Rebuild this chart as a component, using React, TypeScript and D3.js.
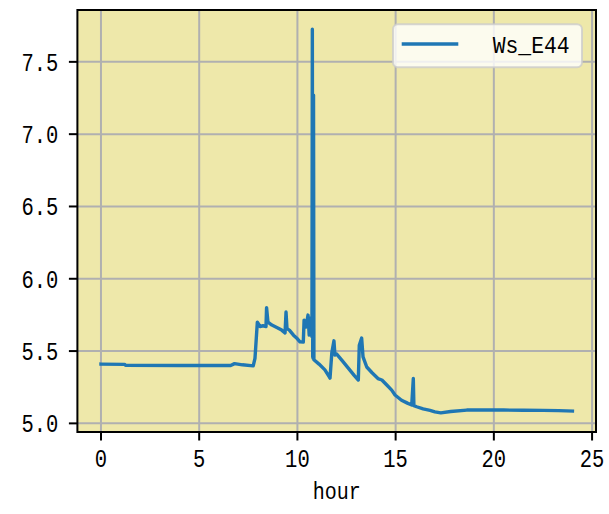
import React from "react";
import * as d3 from "d3";

const hours: number[] = [
  0, 1.2, 1.25, 4.0, 6.6, 6.8, 7.2, 7.75, 7.84, 7.96, 8.1, 8.25, 8.4, 8.43, 8.5, 8.7, 9.0, 9.2, 9.37, 9.42, 9.47, 9.59,
  9.8, 10.0, 10.13, 10.3, 10.34, 10.44, 10.54, 10.6, 10.69, 10.74, 10.76, 10.78, 10.8, 10.82, 10.84, 11.1, 11.4, 11.63,
  11.66, 11.75, 11.86, 11.91, 12.0, 12.3, 12.6, 12.9, 13.1, 13.15, 13.27, 13.34, 13.53, 13.8, 14.1, 14.3, 14.55, 14.8,
  14.97, 15.3, 15.6, 15.82, 15.9, 15.93, 16.07, 16.4, 16.75, 17.0, 17.3, 17.8, 18.62, 19.5, 20.5, 21.5, 22.5, 23.3, 24.0,
];

const windSpeed: number[] = [
  5.41, 5.408, 5.402, 5.4, 5.4, 5.413, 5.405, 5.398, 5.45, 5.7, 5.67, 5.675, 5.67, 5.8, 5.7, 5.68, 5.66, 5.645, 5.625,
  5.77, 5.655, 5.645, 5.61, 5.585, 5.564, 5.562, 5.714, 5.666, 5.749, 5.61, 5.73, 5.6, 7.726, 5.46, 5.45, 7.27, 5.44,
  5.41, 5.37, 5.32, 5.313, 5.486, 5.571, 5.472, 5.479, 5.43, 5.38, 5.33, 5.3, 5.54, 5.59, 5.46, 5.39, 5.35, 5.31, 5.3,
  5.265, 5.23, 5.196, 5.16, 5.14, 5.127, 5.31, 5.123, 5.115, 5.1, 5.09, 5.08, 5.073, 5.082, 5.092, 5.093, 5.092, 5.091,
  5.09, 5.088, 5.085,
];

const xTicks: number[] = [0, 5, 10, 15, 20, 25];
const yTicks: number[] = [5.0, 5.5, 6.0, 6.5, 7.0, 7.5];
const seriesName = "Ws_E44";
const xLabel = "hour";

export default function App() {
  const W = 609;
  const H = 514;
  const left = 77.4;
  const right = 596;
  const top = 10;
  const bottom = 432;

  const xExt = d3.extent(hours) as [number, number];
  const yExt = d3.extent(windSpeed) as [number, number];
  const xPad = (xExt[1] - xExt[0]) * 0.05;
  const yPad = (yExt[1] - yExt[0]) * 0.05;
  const x = d3.scaleLinear().domain([xExt[0] - xPad, xExt[1] + xPad]).range([left, right]);
  const y = d3.scaleLinear().domain([yExt[0] - yPad, yExt[1] + yPad]).range([bottom, top]);

  const pts = hours.map((h, i) => [h, windSpeed[i]] as [number, number]);
  const line = d3
    .line<[number, number]>()
    .x((d) => x(d[0]))
    .y((d) => y(d[1]));

  const font = "'Liberation Mono', 'DejaVu Sans Mono', monospace";
  const charW = 12.3;
  const fmtY = (v: number) => v.toFixed(1);

  return (
    <svg
      width={W}
      height={H}
      style={{ position: "absolute", left: 0, top: 0, background: "#ffffff" }}
    >
      <defs>
        <clipPath id="plotclip">
          <rect x={left} y={top} width={right - left} height={bottom - top} />
        </clipPath>
      </defs>
      <rect x={left} y={top} width={right - left} height={bottom - top} fill="#eee8aa" />
      {xTicks.map((t) => (
        <line key={"gx" + t} x1={x(t)} x2={x(t)} y1={top} y2={bottom} stroke="#b0b0b0" strokeWidth={2} />
      ))}
      {yTicks.map((t) => (
        <line key={"gy" + t} x1={left} x2={right} y1={y(t)} y2={y(t)} stroke="#b0b0b0" strokeWidth={2} />
      ))}
      <path
        d={line(pts) || ""}
        fill="none"
        stroke="#1f77b4"
        strokeWidth={3.4}
        strokeLinejoin="round"
        strokeLinecap="square"
        clipPath="url(#plotclip)"
      />
      <rect
        x={left}
        y={top}
        width={right - left}
        height={bottom - top}
        fill="none"
        stroke="#000"
        strokeWidth={2}
      />
      {xTicks.map((t) => (
        <g key={"tx" + t}>
          <line x1={x(t)} x2={x(t)} y1={bottom} y2={bottom + 8.5} stroke="#000" strokeWidth={2} />
          <text
            x={x(t)}
            y={467}
            textAnchor="middle"
            fontFamily={font}
            fontSize={26}
            textLength={String(t).length * charW}
            lengthAdjust="spacingAndGlyphs"
            fill="#000"
          >
            {String(t)}
          </text>
        </g>
      ))}
      {yTicks.map((t) => (
        <g key={"ty" + t}>
          <line x1={left - 8.5} x2={left} y1={y(t)} y2={y(t)} stroke="#000" strokeWidth={2} />
          <text
            x={58.3}
            y={y(t) + 9}
            textAnchor="end"
            fontFamily={font}
            fontSize={26}
            textLength={fmtY(t).length * charW}
            lengthAdjust="spacingAndGlyphs"
            fill="#000"
          >
            {fmtY(t)}
          </text>
        </g>
      ))}
      <text
        x={(left + right) / 2}
        y={499.3}
        textAnchor="middle"
        fontFamily={font}
        fontSize={24}
        textLength={48}
        lengthAdjust="spacingAndGlyphs"
        fill="#000"
      >
        {xLabel}
      </text>
      <g>
        <rect
          x={393}
          y={24.3}
          width={189}
          height={43}
          rx={5}
          fill="#ffffff"
          fillOpacity={0.8}
          stroke="#cccccc"
          strokeOpacity={0.8}
          strokeWidth={2}
        />
        <line x1={401.7} x2={458.3} y1={44} y2={44} stroke="#1f77b4" strokeWidth={3.4} />
        <text
          x={492.7}
          y={53.3}
          fontFamily={font}
          fontSize={23}
          textLength={77}
          lengthAdjust="spacingAndGlyphs"
          fill="#000"
        >
          {seriesName}
        </text>
      </g>
    </svg>
  );
}
